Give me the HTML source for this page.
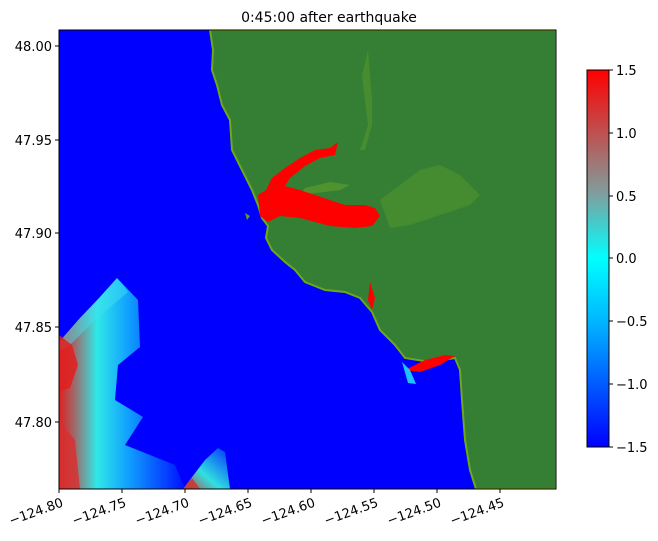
<!DOCTYPE html>
<html><head><style>body{margin:0;background:#fff}svg{display:block}text{font-family:"DejaVu Sans","Liberation Sans",sans-serif;font-size:13px;fill:#000}</style></head>
<body>
<svg width="658" height="541" viewBox="0 0 658 541">
<defs>
<linearGradient id="cb" x1="0" y1="1" x2="0" y2="0">
<stop offset="0" stop-color="#0000ff"/><stop offset="0.33" stop-color="#00b4ff"/><stop offset="0.5" stop-color="#00ffff"/><stop offset="0.67" stop-color="#7f9f9f"/><stop offset="1" stop-color="#ff0000"/></linearGradient>
<linearGradient id="w1" x1="0" y1="0" x2="1" y2="0">
<stop offset="0" stop-color="#e02020"/><stop offset="0.12" stop-color="#a06868"/><stop offset="0.3" stop-color="#30e8e8"/><stop offset="0.55" stop-color="#10a0ff"/><stop offset="1" stop-color="#0010ff"/></linearGradient>
<linearGradient id="w2" x1="0" y1="1" x2="1" y2="0">
<stop offset="0" stop-color="#c04040"/><stop offset="0.4" stop-color="#30e0e0"/><stop offset="1" stop-color="#0030ff"/></linearGradient>
<clipPath id="ax"><rect x="59" y="30" width="497" height="459"/></clipPath>
</defs>
<text x="329" y="22" text-anchor="middle" style="font-size:14px">0:45:00 after earthquake</text>
<g clip-path="url(#ax)">
<rect x="59" y="30" width="497" height="459" fill="#0000ff"/>
<path d="M59,342 L80,318 L100,297 L117,278 L138,300 L140,347 L118,365 L115,400 L143,417 L125,445 L175,465 L185,489 L59,489Z" fill="url(#w1)"/>
<path d="M59,342 L80,318 L100,297 L117,278 L128,292 L95,320 L70,345 L59,352Z" fill="#40e0f0" opacity="0.5"/>
<path d="M59,335 L72,345 L78,365 L70,388 L59,392Z" fill="#e02020" opacity="0.85"/>
<path d="M59,420 L75,440 L80,489 L59,489Z" fill="#d83030" opacity="0.8"/>
<path d="M183,489 L205,460 L218,448 L225,452 L230,489Z" fill="url(#w2)"/>
<path d="M183,489 L192,478 L200,489Z" fill="#c04040"/>
<path d="M210,30 L556,30 L556,489 L476,489 L470,470 L465,440 L462,400 L460,370 L455,358 L430,362 L405,358 L395,345 L380,330 L372,312 L360,298 L345,292 L325,290 L305,282 L295,270 L285,262 L272,250 L266,238 L268,226 L262,218 L258,205 L252,190 L242,170 L232,150 L230,120 L222,105 L217,85 L212,70 L213,50 Z" fill="#357f35" stroke="#6ea81a" stroke-width="2"/>
<path d="M360,150 L368,125 L365,100 L362,75 L368,50 L370,75 L372,100 L372,125 L365,150Z" fill="#5e9e28" opacity="0.45"/>
<path d="M380,200 L400,185 L420,170 L440,165 L460,175 L480,195 L470,205 L440,215 L410,225 L390,228 Z" fill="#5e9e28" opacity="0.4"/>
<path d="M300,195 L340,190 L350,185 L330,182 L305,188Z" fill="#6aa82a" opacity="0.5"/>
<path d="M258,195 L266,190 L272,178 L285,168 L300,158 L315,150 L330,148 L338,142 L335,155 L320,158 L305,166 L290,178 L285,186 L300,190 L330,200 L345,205 L365,205 L375,208 L380,216 L372,226 L355,228 L330,226 L300,218 L280,216 L268,222 L260,216 Z" fill="#ff0000"/>
<path d="M370,282 L375,298 L372,310 L368,300Z M405,370 L425,360 L445,355 L455,356 L440,365 L420,372Z" fill="#ff0000"/>
<path d="M402,362 L410,370 L416,384 L408,383Z" fill="#20c0ff"/>
<path d="M245,213 L250,216 L247,220Z" fill="#5e9e28"/>
</g>
<rect x="59" y="30" width="497" height="459" fill="none" stroke="#000" stroke-width="1"/>
<g stroke="#000">
<line x1="59" y1="489" x2="59" y2="493"/><line x1="122" y1="489" x2="122" y2="493"/><line x1="185" y1="489" x2="185" y2="493"/><line x1="248" y1="489" x2="248" y2="493"/><line x1="311" y1="489" x2="311" y2="493"/><line x1="374" y1="489" x2="374" y2="493"/><line x1="437" y1="489" x2="437" y2="493"/><line x1="500" y1="489" x2="500" y2="493"/>
<line x1="55" y1="46" x2="59" y2="46"/><line x1="55" y1="140" x2="59" y2="140"/><line x1="55" y1="233" x2="59" y2="233"/><line x1="55" y1="327" x2="59" y2="327"/><line x1="55" y1="422" x2="59" y2="422"/>
</g>
<g text-anchor="end">
<text x="52" y="51">48.00</text><text x="52" y="145">47.95</text><text x="52" y="238">47.90</text><text x="52" y="332">47.85</text><text x="52" y="427">47.80</text>
</g>
<g text-anchor="end">
<text transform="translate(64,506) rotate(-20)">−124.80</text>
<text transform="translate(127,506) rotate(-20)">−124.75</text>
<text transform="translate(190,506) rotate(-20)">−124.70</text>
<text transform="translate(253,506) rotate(-20)">−124.65</text>
<text transform="translate(316,506) rotate(-20)">−124.60</text>
<text transform="translate(379,506) rotate(-20)">−124.55</text>
<text transform="translate(442,506) rotate(-20)">−124.50</text>
<text transform="translate(505,506) rotate(-20)">−124.45</text>
</g>
<rect x="587" y="70" width="22" height="377" fill="url(#cb)" stroke="#000" stroke-width="1"/>
<g stroke="#000">
<line x1="609" y1="70" x2="613" y2="70"/><line x1="609" y1="133" x2="613" y2="133"/><line x1="609" y1="196" x2="613" y2="196"/><line x1="609" y1="258" x2="613" y2="258"/><line x1="609" y1="321" x2="613" y2="321"/><line x1="609" y1="384" x2="613" y2="384"/><line x1="609" y1="447" x2="613" y2="447"/>
</g>
<g>
<text x="616" y="75">1.5</text><text x="616" y="138">1.0</text><text x="616" y="201">0.5</text><text x="616" y="263">0.0</text><text x="616" y="326">−0.5</text><text x="616" y="389">−1.0</text><text x="616" y="452">−1.5</text>
</g>
</svg>
</body></html>
